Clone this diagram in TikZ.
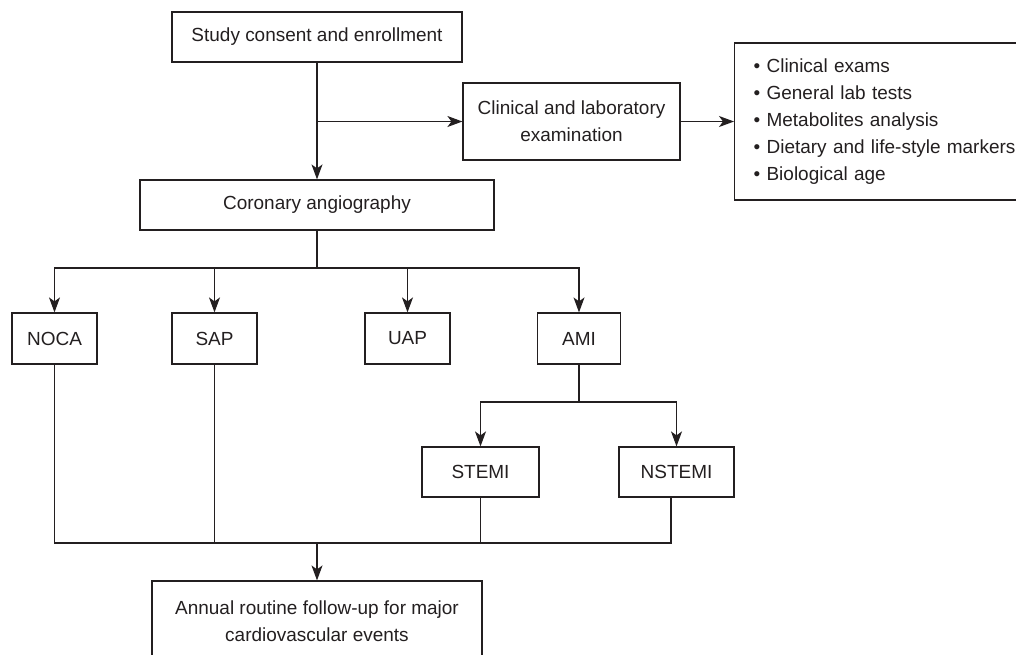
\documentclass[tikz,border=0pt]{standalone}
\usepackage{fontspec}
\setmainfont{Liberation Sans}
\usetikzlibrary{arrows.meta}
\definecolor{ink}{HTML}{231F20}

\begin{document}
\begin{tikzpicture}[x=0.02cm, y=-0.02cm, color=ink, line width=0.7pt,
    >={Stealth[length=0.3cm, width=0.22cm, inset=0.08cm]}]
    \useasboundingbox (0, 0) rectangle (1016, 654);
    \clip (0, 0) rectangle (1016, 654);

    \begin{scope}[every node/.style={draw=ink, line width=0.7pt, inner sep=0pt, align=center, font=\fontsize{10.8}{15.4}\selectfont}]
        \node[minimum width=5.8cm, minimum height=1cm] (S_1) at (317, 37) {Study consent and enrollment};
        \node[minimum width=4.34cm, minimum height=1.54cm] (C_1) at (571.5, 121.5) {Clinical and laboratory\\examination};
        \node[anchor=west, minimum height=3.14cm, inner xsep=0.38cm, text width=7cm, align=left] (L_1) at (734, 121.5)
            {\textbullet\ Clinical exams\\
             \textbullet\ General lab tests\\
             \textbullet\ Metabolites analysis\\
             \textbullet\ Dietary and life-style markers\\
             \textbullet\ Biological age};
        \node[minimum width=7.08cm, minimum height=1cm] (A_1) at (317, 205) {Coronary angiography};

        \node[minimum width=1.7cm, minimum height=1.02cm] (G_1) at (54.5, 338.5) {NOCA};
        \node[minimum width=1.7cm, minimum height=1.02cm] (G_2) at (214.5, 338.5) {SAP};
        \node[minimum width=1.7cm, minimum height=1.02cm] (G_3) at (407.5, 338.5) {UAP};
        \node[minimum width=1.66cm, minimum height=1.02cm] (G_4) at (579, 338.5) {AMI};

        \node[minimum width=2.34cm, minimum height=1cm] (M_1) at (480.5, 472) {STEMI};
        \node[minimum width=2.3cm, minimum height=1cm] (M_2) at (676.5, 472) {NSTEMI};

        \node[minimum width=6.6cm, minimum height=1.6cm] (F_1) at (317, 621) {Annual routine follow-up for major\\cardiovascular events};
    \end{scope}

    \coordinate (J_1) at (317, 121.5);
    \coordinate (J_2) at (317, 268);
    \coordinate (J_3) at (579, 402);
    \coordinate (J_4) at (317, 543);

    \draw[->] (S_1) -- (A_1);
    \draw[->] (J_1) -- (C_1);
    \draw[->] (C_1) -- (L_1);

    \draw (A_1.south) -- (J_2);
    \draw[->] (J_2) -| (G_1.north);
    \draw[->] (J_2) -| (G_2.north);
    \draw[->] (J_2) -| (G_3.north);
    \draw[->] (J_2) -| (G_4.north);

    \draw (G_4.south) -- (J_3);
    \draw[->] (J_3) -| (M_1.north);
    \draw[->] (J_3) -| (M_2.north);

    \draw (G_1.south) |- (J_4);
    \draw (G_2.south) |- (J_4);
    \draw (M_1.south) |- (J_4);
    \draw ([xshift=-0.11cm]M_2.south) |- (J_4);
    \draw[->] (J_4) -- (F_1);
\end{tikzpicture}
\end{document}
